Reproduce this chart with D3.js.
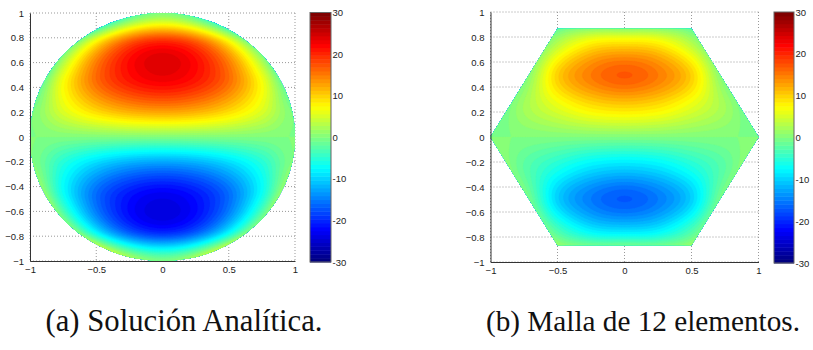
<!DOCTYPE html>
<html>
<head>
<meta charset="utf-8">
<script src="https://cdn.jsdelivr.net/npm/d3@7"></script>
<style>
body { margin: 0; background: #fff; }
.cbl { font-family: "Liberation Sans", Arial, sans-serif; font-size: 9.5px; fill: #222; }
</style>
</head>
<body>
<svg id="fig" width="813" height="350"></svg>
<script>
// nodes of the sampling grid (rows go from y=1 down to y=-1)
var gridX = [-1, -0.75, -0.5, -0.25, 0, 0.25, 0.5, 0.75, 1]
var gridY = [1, 0.75, 0.5, 0.25, 0, -0.25, -0.5, -0.75, -1]

// (a) analytic solution, values read at the grid nodes
var analitica = [
  [-64, -36, -16,  -4,   0,  -4, -16, -36, -64],
  [-27,  -6,   9,  18,  21,  18,   9,  -6, -27],
  [ -8,   6,  16,  21.5, 23.5, 21.5, 16, 6,  -8],
  [ -1,   6,  11,  14,  15,  14,  11,   6,  -1],
  [  0,   0,   0,   0,   0,   0,   0,   0,   0],
  [  1,  -6, -11, -14, -15, -14, -11,  -6,   1],
  [  8,  -6, -16, -21.5, -23.5, -21.5, -16, -6, 8],
  [ 27,   6,  -9, -18, -21, -18,  -9,   6,  27],
  [ 64,  36,  16,   4,   0,   4,  16,  36,  64]
]

// (b) 12-element mesh solution
var malla12 = [
  [-18, -12,  -6,  -7,  -8,  -7,  -6, -12, -18],
  [-12,  -6,   3,   8,   9,   8,   3,  -6, -12],
  [ -8,  -1,  10,  15,  17,  15,  10,  -1,  -8],
  [ -3,   2,   6,   9,  10,   9,   6,   2,  -3],
  [  0,   0,   0,   0,   0,   0,   0,   0,   0],
  [  3,  -2,  -6,  -9, -10,  -9,  -6,  -2,   3],
  [  8,   1, -10, -15, -17, -15, -10,   1,   8],
  [ 12,   6,  -3,  -8,  -9,  -8,  -3,   6,  12],
  [ 18,  12,   6,   7,   8,   7,   6,  12,  18]
]

var hexagono = [[1, 0], [0.5, 0.866], [-0.5, 0.866], [-1, 0], [-0.5, -0.866], [0.5, -0.866]]

var xTicks = [-1, -0.5, 0, 0.5, 1]
var yTicks = [-1, -0.8, -0.6, -0.4, -0.2, 0, 0.2, 0.4, 0.6, 0.8, 1]
var cbTicks = [-30, -20, -10, 0, 10, 20, 30]
var captions = ["(a) Solución Analítica.", "(b) Malla de 12 elementos."]

var svg = d3.select("#fig")

// matlab jet
function jet(f) {
  var c = v => Math.round(255 * Math.max(0, Math.min(1, v)))
  return d3.rgb(c(1.5 - Math.abs(4 * f - 3)), c(1.5 - Math.abs(4 * f - 2)), c(1.5 - Math.abs(4 * f - 1))) + ""
}
var nColors = 64
var colors = d3.range(nColors).map(i => jet(i / (nColors - 1)))
var levels = d3.range(nColors).map(i => -30 + i * 60 / nColors)

// catmull-rom resampling of the node grid
function cr(p0, p1, p2, p3, t) {
  return 0.5 * (2 * p1 + (-p0 + p2) * t + (2 * p0 - 5 * p1 + 4 * p2 - p3) * t * t + (-p0 + 3 * p1 - 3 * p2 + p3) * t * t * t)
}
function resample(g, N) {
  var n = g.length, out = new Array(N * N)
  var at = (r, c) => g[Math.max(0, Math.min(n - 1, r))][Math.max(0, Math.min(n - 1, c))]
  for (var j = 0; j < N; j++) {
    var v = j * (n - 1) / (N - 1), r = Math.min(n - 2, Math.floor(v)), ty = v - r
    for (var i = 0; i < N; i++) {
      var u = i * (n - 1) / (N - 1), c = Math.min(n - 2, Math.floor(u)), tx = u - c
      var rows = [-1, 0, 1, 2].map(d => cr(at(r + d, c - 1), at(r + d, c), at(r + d, c + 1), at(r + d, c + 2), tx))
      out[j * N + i] = cr(rows[0], rows[1], rows[2], rows[3], ty)
    }
  }
  return out
}

function panel(id, data, box, cb, clipShape) {
  var x = d3.scaleLinear().domain([-1, 1]).range([box.x0, box.x1])
  var y = d3.scaleLinear().domain([-1, 1]).range([box.y1, box.y0])
  var g = svg.append("g")

  // grid
  g.append("g").selectAll("line").data(xTicks).enter().append("line")
    .attr("x1", d => x(d)).attr("x2", d => x(d)).attr("y1", box.y0).attr("y2", box.y1)
    .attr("stroke", "#999").attr("stroke-dasharray", "1,2")
  g.append("g").selectAll("line").data(yTicks).enter().append("line")
    .attr("y1", d => y(d)).attr("y2", d => y(d)).attr("x1", box.x0).attr("x2", box.x1)
    .attr("stroke", "#999").attr("stroke-dasharray", "1,2")

  // clip
  var clip = svg.append("defs").append("clipPath").attr("id", "clip" + id)
  if (clipShape == "circle") {
    clip.append("ellipse").attr("cx", x(0)).attr("cy", y(0))
      .attr("rx", x(1) - x(0)).attr("ry", y(0) - y(1))
  } else {
    clip.append("polygon").attr("points", clipShape.map(p => x(p[0]) + "," + y(p[1])).join(" "))
  }

  var N = 161
  var vals = resample(data, N)
  var step = 2 / (N - 1)
  var proj = d3.geoTransform({
    point: function(px, py) { this.stream.point(x(-1 + (px - 0.5) * step), y(1 - (py - 0.5) * step)) }
  })
  var path = d3.geoPath(proj)
  var cs = d3.contours().size([N, N]).thresholds(levels)(vals)
  g.append("g").attr("clip-path", "url(#clip" + id + ")")
    .selectAll("path").data(cs).enter().append("path")
    .attr("d", path)
    .attr("fill", (d, i) => colors[i])
    .attr("stroke", (d, i) => colors[i]).attr("stroke-width", 0.3)

  // axes
  var ax = g.append("g").attr("transform", "translate(0," + box.y1 + ")")
    .call(d3.axisBottom(x).tickValues(xTicks).tickSize(0).tickPadding(5).tickFormat(d3.format("")))
  var ay = g.append("g").attr("transform", "translate(" + box.x0 + ",0)")
    .call(d3.axisLeft(y).tickValues(yTicks).tickSize(0).tickPadding(6).tickFormat(d3.format("")))
  ;[ax, ay].forEach(a => {
    a.attr("font-family", "Liberation Sans, Arial, sans-serif").attr("font-size", 9.5)
    a.select(".domain").attr("stroke", "#333")
    a.selectAll(".tick text").attr("fill", "#222")
  })

  // colorbar
  var cy = d3.scaleLinear().domain([-30, 30]).range([cb.y1, cb.y0])
  var cbg = g.append("g")
  cbg.selectAll("rect").data(levels).enter().append("rect")
    .attr("x", cb.x0).attr("width", cb.x1 - cb.x0)
    .attr("y", d => cy(d + 60 / nColors)).attr("height", d => cy(d) - cy(d + 60 / nColors) + 0.5)
    .attr("fill", (d, i) => colors[i])
  cbg.append("rect").attr("x", cb.x0).attr("y", cb.y0).attr("width", cb.x1 - cb.x0).attr("height", cb.y1 - cb.y0)
    .attr("fill", "none").attr("stroke", "#666").attr("stroke-width", 1)
  cbg.selectAll("text").data(cbTicks).enter().append("text").attr("class", "cbl")
    .attr("x", cb.x1 + 1.5).attr("y", d => cy(d) + 3.5).text(d => d)
}

panel("a", analitica, {x0: 30, x1: 295, y0: 13, y1: 261}, {x0: 310, x1: 331, y0: 12.5, y1: 262}, "circle")
panel("b", malla12, {x0: 490.5, x1: 758.5, y0: 12, y1: 262}, {x0: 774, x1: 794, y0: 12, y1: 263}, hexagono)

// captions
var capX = [184, 643], capW = [277, 314]
captions.forEach((c, i) => {
  var t = svg.append("text").attr("x", capX[i]).attr("y", 331)
    .attr("text-anchor", "middle").attr("fill", "#111")
    .attr("font-family", "Liberation Serif, Times New Roman, Tinos, DejaVu Serif, serif")
    .attr("font-size", 28).text(c)
  var w = t.node().getComputedTextLength()
  t.attr("font-size", (28 * capW[i] / w).toFixed(2))
})
</script>
</body>
</html>
